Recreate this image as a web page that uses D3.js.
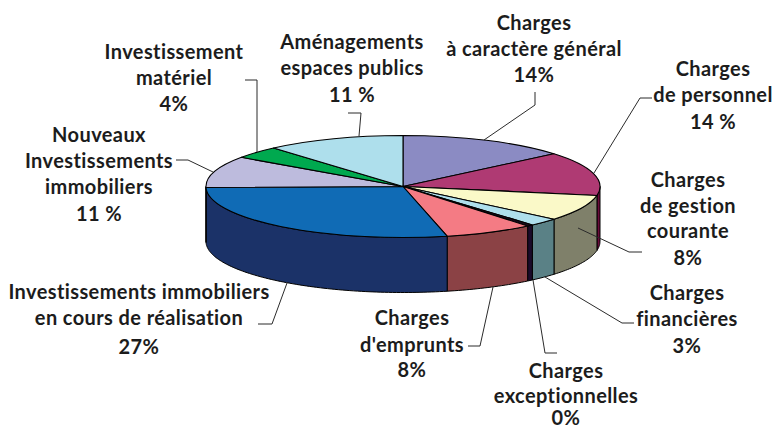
<!DOCTYPE html>
<html lang="fr">
<head>
<meta charset="utf-8">
<script src="https://cdnjs.cloudflare.com/ajax/libs/d3/7.8.5/d3.min.js"></script>
<style>
html,body{margin:0;padding:0;background:#fff;}
svg{display:block;}
text{font-family:Lato,"Noto Sans",sans-serif;font-weight:700;font-size:20px;letter-spacing:.4px;fill:#1c1c1c;text-anchor:middle;}
</style>
</head>
<body>
<svg id="chart" width="775" height="430"></svg>
<script>
const categories = ["Charges à caractère général","Charges de personnel","Charges de gestion courante","Charges financières","Charges exceptionnelles","Charges d'emprunts","Investissements immobiliers en cours de réalisation","Nouveaux Investissements immobiliers","Investissement matériel","Aménagements espaces publics"];
// shares
const shares = [13.9,13.9,8.3,2.5,0.5,7.3,28.3,10,3.9,11.4];
const topColors = ["#8b8bc3","#af3a73","#faf9c8","#aedfec","#1a0a20","#f47b84","#106bb5","#bdbbdd","#00a94f","#aedfec"];
const sideColors = ["#66668f","#6a0a3a","#7f806a","#5a8186","#1a0a2a","#8b4245","#1b3268","#8a88a5","#007a3a","#7fa5ad"];
const labelLines = [
  ["Charges","à caractère général","14%"],
  ["Charges","de personnel","14 %"],
  ["Charges","de gestion","courante","8%"],
  ["Charges","financières","3%"],
  ["Charges","exceptionnelles","0%"],
  ["Charges","d'emprunts","8%"],
  ["Investissements immobiliers","en cours de réalisation","27%"],
  ["Nouveaux","Investissements","immobiliers","11 %"],
  ["Investissement","matériel","4%"],
  ["Aménagements","espaces publics","11 %"]
];
// layout only
const labelX = [534,713,688,687,566,412,139,99,174,352];
const labelY = [
  [30,56,82],[76,102,129],[187,213,238,265],[300,326,353],[378,403,425],
  [325,352,377],[299,325,354],[142,168,194,221],[59,85,111],[49,75,102]
];
const leaders = [
  [[535,92],[535,105],[484,140]],
  [[652,98],[640,98],[594,173]],
  [[642,252],[629,252],[578,228]],
  [[634,323],[622,323],[545,277]],
  [[557,353],[545,353],[533,280]],
  [[468,346],[480,346],[493,287]],
  [[258,324],[272,324],[287,283]],
  [[176,160],[188,160],[213,172]],
  [[245,80],[257,80],[257,152]],
  [[348,113],[361,113],[359,136]]
];
const cx = 403, cy = 186.5, rx = 197, ry = 51, depth = 55;

const svg = d3.select("#chart");
const x = d3.scaleLinear().domain([-1,1]).range([cx-rx,cx+rx]);
const y = d3.scaleLinear().domain([-1,1]).range([cy-ry,cy+ry]);
const slices = d3.pie().value(d=>d).sort(null)(shares);

const rimPoint = (a,dy=0)=>[x(Math.sin(a)), y(-Math.cos(a))+dy];
const rim = (a0,a1,dy=0)=>{
  const n = Math.max(2,Math.ceil((a1-a0)/0.02));
  return d3.range(n+1).map(i=>rimPoint(a0+(a1-a0)*i/n,dy));
};
const line = d3.line();

// side wall: only the part of each slice facing the viewer
const lo = Math.PI/2, hi = 3*Math.PI/2;
svg.append("g").selectAll("path")
  .data(slices.map((s,i)=>({i,a0:Math.max(s.startAngle,lo),a1:Math.min(s.endAngle,hi)})).filter(d=>d.a1>d.a0))
  .join("path")
  .attr("d",d=>line([...rim(d.a0,d.a1),...rim(d.a0,d.a1,depth).reverse()])+"Z")
  .attr("fill",d=>sideColors[d.i])
  .attr("stroke","#000").attr("stroke-width",1).attr("stroke-linejoin","round");

// top face
const arc = d3.arc().innerRadius(0).outerRadius(1);
svg.append("g").attr("transform",`translate(${cx},${cy}) scale(${rx},${ry})`)
  .selectAll("path").data(slices).join("path")
  .attr("d",arc)
  .attr("fill",(d,i)=>topColors[i])
  .attr("stroke","#000").attr("stroke-width",1.1)
  .attr("stroke-linejoin","round")
  .attr("vector-effect","non-scaling-stroke");

// leader lines
svg.append("g").selectAll("path").data(leaders).join("path")
  .attr("d",d=>line(d)).attr("fill","none")
  .attr("stroke","#2b2b2b").attr("stroke-width",1);

// labels
const lab = svg.append("g").selectAll("text").data(labelLines).join("text")
  .attr("data-category",(d,i)=>categories[i]);
lab.selectAll("tspan").data((d,i)=>d.map((t,j)=>({t,x:labelX[i],y:labelY[i][j]}))).join("tspan")
  .attr("x",d=>d.x).attr("y",d=>d.y).text(d=>d.t);
</script>
</body>
</html>
